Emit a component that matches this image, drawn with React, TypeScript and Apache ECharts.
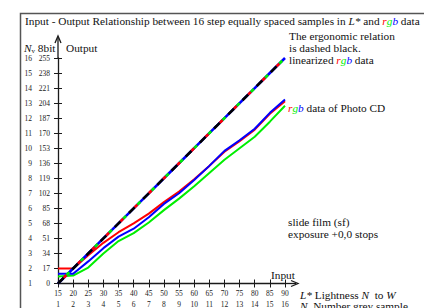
import React, { useEffect, useRef } from "react";
import * as echarts from "echarts";

const lStar = [15, 20, 25, 30, 35, 40, 45, 50, 55, 60, 65, 70, 75, 80, 85, 90];
const greyN = [1, 2, 3, 4, 5, 6, 7, 8, 9, 10, 11, 12, 13, 14, 15, 16];
const outNv = [1, 2, 3, 4, 5, 6, 7, 8, 9, 10, 11, 12, 13, 14, 15, 16];
const out8bit = [0, 17, 34, 51, 68, 85, 102, 119, 136, 153, 170, 187, 204, 221, 238, 255];

const ergonomic = [0, 17, 34, 51, 68, 85, 102, 119, 136, 153, 170, 187, 204, 221, 238, 255];
const linR = [0, 17, 34, 51, 68, 85, 102, 119, 136, 153, 170, 187, 204, 221, 238, 255];
const linG = [0, 17, 34, 51, 68, 85, 102, 119, 136, 153, 170, 187, 204, 221, 238, 255];
const linB = [0, 17, 34, 51, 68, 85, 102, 119, 136, 153, 170, 187, 204, 221, 238, 255];

const cdR = [17, 17, 32, 46, 58, 68, 79, 92, 104, 118, 133, 149, 161, 174, 192, 206];
const cdG = [8, 9, 18, 34, 48, 57, 69, 83, 96, 110, 125, 140, 153, 166, 183, 201];
const cdB = [11, 11, 25, 40, 53, 62, 75, 90, 102, 117, 133, 150, 162, 175, 193, 208];

const FONT = "'Liberation Serif', 'Times New Roman', Times, serif";
const RED = "#ff0000";
const GREEN = "#00ee00";
const BLUE = "#0000ff";
const AX = "#1a1a1a";
const FS = 11.3;

const pts = (arr: number[]) => lStar.map((l, i) => [l, arr[i]]);

export default function App() {
  const ref = useRef<HTMLDivElement>(null);
  useEffect(() => {
    if (!ref.current) return;
    const chart = echarts.init(ref.current, undefined, { renderer: "svg" });
    const baseAxisX = { type: "value", min: 15, max: 90, interval: 5, gridIndex: 0 };
    const baseAxisY = { type: "value", min: 0, max: 255, interval: 17, gridIndex: 0 };
    const line = (data: number[], color: string, width: number, extra: any = {}) => ({
      type: "line",
      data: pts(data),
      showSymbol: false,
      symbol: "none",
      silent: true,
      lineStyle: { color, width, ...extra },
      z: 2,
    });
    chart.setOption({
      animation: false,
      textStyle: { fontFamily: FONT },
      grid: { left: 58, right: 139, top: 58, bottom: 23, containLabel: false },
      xAxis: [
        {
          ...baseAxisX,
          position: "bottom",
          axisLine: { show: true, lineStyle: { color: AX, width: 1.3 } },
          axisTick: { show: true, length: 4, lineStyle: { color: AX, width: 1 } },
          splitLine: { show: false },
          axisLabel: {
            show: true,
            margin: 4,
            fontFamily: FONT,
            formatter: (v: number) => {
              const i = lStar.indexOf(v);
              return `{a|${v}}\n{a|${i >= 0 ? greyN[i] : ""}}`;
            },
            rich: { a: { fontFamily: FONT, fontSize: 7.5, color: "#222", lineHeight: 11, align: "center" } },
          },
        },
        {
          ...baseAxisX,
          position: "bottom",
          axisLine: { show: false },
          axisTick: { show: true, inside: true, length: 4, lineStyle: { color: AX, width: 1 } },
          axisLabel: { show: false },
          splitLine: { show: false },
        },
      ],
      yAxis: [
        {
          ...baseAxisY,
          position: "left",
          axisLine: { show: true, lineStyle: { color: AX, width: 1.3 } },
          axisTick: { show: true, length: 4, lineStyle: { color: AX, width: 1 } },
          splitLine: { show: false },
          axisLabel: {
            show: true,
            margin: 8,
            fontFamily: FONT,
            formatter: (v: number) => {
              const i = out8bit.indexOf(v);
              return `{a|${i >= 0 ? outNv[i] : ""}}{b|${v}}`;
            },
            rich: {
              a: { fontFamily: FONT, fontSize: 7.5, color: "#222", width: 12, align: "right" },
              b: { fontFamily: FONT, fontSize: 7.5, color: "#222", width: 18, align: "right" },
            },
          },
        },
        {
          ...baseAxisY,
          position: "left",
          axisLine: { show: false },
          axisTick: { show: true, inside: true, length: 4, lineStyle: { color: AX, width: 1 } },
          axisLabel: { show: false },
          splitLine: { show: false },
        },
      ],
      series: [
        line(cdG, GREEN, 2),
        line(cdR, RED, 2),
        line(cdB, BLUE, 2),
        line(linB, BLUE, 2.6),
        line(linR, RED, 2.6, { type: [4, 16], dashOffset: 12 }),
        line(linG, GREEN, 2.6, { type: [4, 16], dashOffset: 8 }),
        line(ergonomic, "#000000", 2.6, { type: [8, 12], dashOffset: 0 }),
      ],
    });

    const o = chart.convertToPixel({ gridIndex: 0 }, [15, 0]) as number[];
    const e = chart.convertToPixel({ gridIndex: 0 }, [90, 255]) as number[];
    const x0 = o[0], y0 = o[1], x1 = e[0], y1 = e[1];
    const txt = (x: number, y: number, text: string, rich?: any, size = FS, extra: any = {}) => ({
      type: "text",
      x,
      y,
      style: {
        text,
        fontFamily: FONT,
        fontSize: size,
        fill: "#111",
        verticalAlign: "middle",
        rich,
        ...extra,
      },
      z: 10,
    });
    const rgbRich = {
      r: { fill: RED, fontStyle: "italic", fontFamily: FONT, fontSize: FS },
      g: { fill: GREEN, fontStyle: "italic", fontFamily: FONT, fontSize: FS },
      b: { fill: BLUE, fontStyle: "italic", fontFamily: FONT, fontSize: FS },
      i: { fontStyle: "italic", fontFamily: FONT, fontSize: FS, fill: "#111" },
      t: { fontFamily: FONT, fontSize: FS, fill: "#111" },
      s: { fontFamily: FONT, fontSize: 7, fill: "#111", verticalAlign: "bottom", padding: [6, 0, 0, 0] },
    };
    chart.setOption({
      graphic: [
        {
          type: "rect",
          shape: { x: 20.5, y: 13.5, width: 440, height: 320 },
          style: { fill: "none", stroke: "#555", lineWidth: 1.5 },
          silent: true,
        },
        txt(25, 21, "{t|Input - Output Relationship between 16 step equally spaced samples in }{i|L*}{t| and }{r|r}{g|g}{b|b}{t| data}", rgbRich),
        txt(289, 36, "The ergonomic relation"),
        txt(289, 48, "is dashed black."),
        txt(289, 60, "{t|linearized }{r|r}{g|g}{b|b}{t| data}", rgbRich),
        txt(288, 108, "{r|r}{g|g}{b|b}{t| data of Photo CD}", rgbRich),
        txt(288, 222, "slide film (sf)"),
        txt(288, 234, "exposure +0,0 stops"),
        txt(271, 275, "Input"),
        txt(66, 48, "Output"),
        txt(24, 48, "{i|N}{s|v}{t| 8bit}", rgbRich),
        txt(300, 295, "{i|L*}{t| Lightness }{i|N}{t|  to }{i|W}", rgbRich),
        txt(300, 306, "{i|N}{t|. Number grey sample}", rgbRich),
        {
          type: "line",
          shape: { x1: x0, y1: y1, x2: x0, y2: 38 },
          style: { stroke: AX, lineWidth: 1.3 },
          silent: true,
        },
        {
          type: "polyline",
          shape: { points: [[x0 - 3, 43], [x0, 36], [x0 + 3, 43]] },
          style: { stroke: AX, lineWidth: 1.3, fill: "none" },
          silent: true,
        },
        {
          type: "line",
          shape: { x1: x1, y1: y0, x2: 296, y2: y0 },
          style: { stroke: AX, lineWidth: 1.3 },
          silent: true,
        },
        {
          type: "polyline",
          shape: { points: [[291, y0 - 3], [298, y0], [291, y0 + 3]] },
          style: { stroke: AX, lineWidth: 1.3, fill: "none" },
          silent: true,
        },
      ],
    });
    return () => chart.dispose();
  }, []);
  return <div ref={ref} style={{ width: 424, height: 308, position: "absolute", left: 0, top: 0 }} />;
}
